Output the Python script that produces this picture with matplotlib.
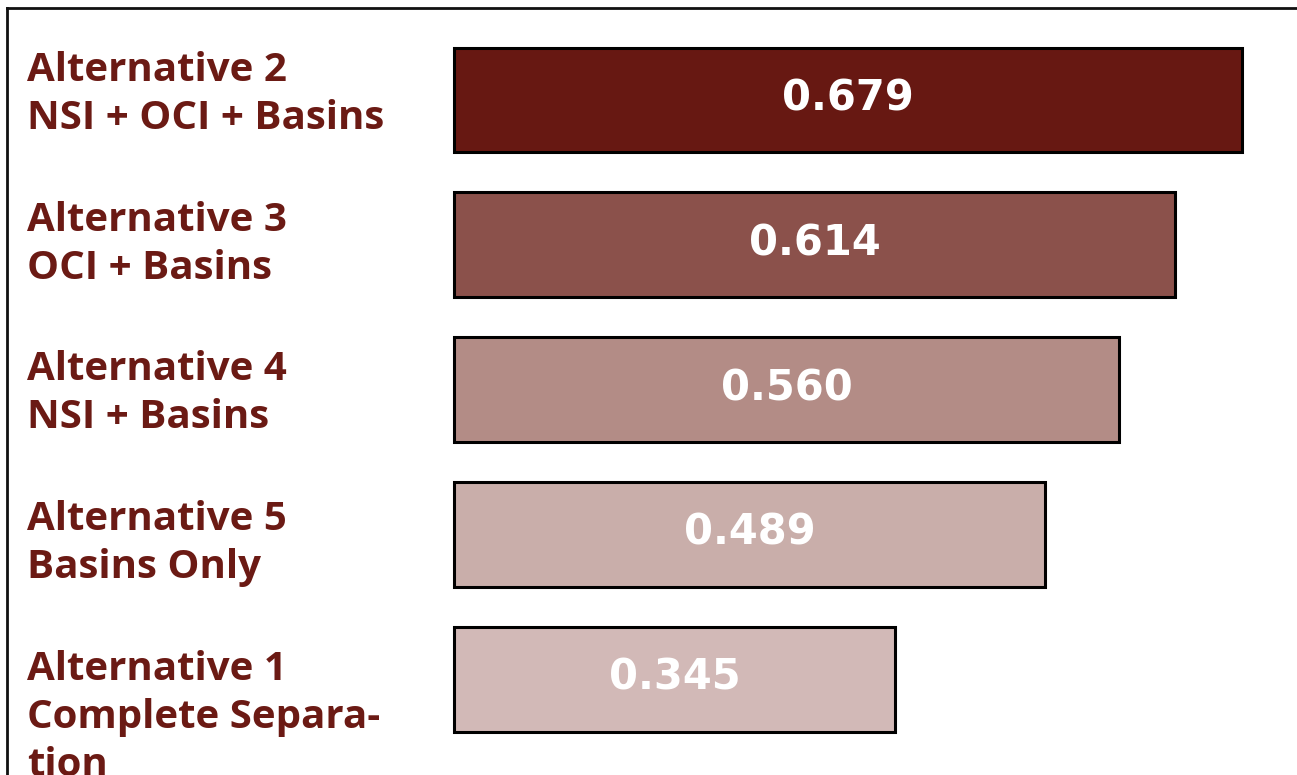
import matplotlib
matplotlib.use("Agg")
import matplotlib.pyplot as plt
from matplotlib.transforms import blended_transform_factory

# ---- data ----
labels = [
    "Alternative 2\nNSI + OCI + Basins",
    "Alternative 3\nOCI + Basins",
    "Alternative 4\nNSI + Basins",
    "Alternative 5\nBasins Only",
    "Alternative 1\nComplete Separa-\ntion",
]
values = [0.679, 0.614, 0.560, 0.489, 0.345]
value_text = ["0.679", "0.614", "0.560", "0.489", "0.345"]
colors = ["#671812", "#8B514B", "#B38C86", "#C9AEAA", "#D2B9B7"]

TEXT_COLOR = "#6B1A14"
BASE = -0.080          # visual baseline of the bars
LABEL_STRETCH = 1.035  # labels are spaced slightly wider than the bars

W, H = 1297, 775
fig = plt.figure(figsize=(W / 100, H / 100), dpi=100)
fig.patch.set_facecolor("white")

ax = fig.add_axes([7 / W, 0, 1 - 7 / W, 1 - 8 / H])
ypos = list(range(len(values)))
widths = [v - BASE for v in values]
ax.barh(ypos, widths, left=BASE, height=0.725, color=colors,
        edgecolor="black", linewidth=2.2)

ax.set_xlim(-0.5109, 0.7318)
ax.set_ylim(4.663, -0.6356)

for s in ["right", "bottom"]:
    ax.spines[s].set_visible(False)
for s in ["left", "top"]:
    ax.spines[s].set_linewidth(2.0)
    ax.spines[s].set_color("#111111")
ax.set_xticks([])
ax.set_yticks([])

trans = blended_transform_factory(ax.transAxes, ax.transData)
for y, lab in zip(ypos, labels):
    ax.text(20 / 1290, y * LABEL_STRETCH - 0.34, lab, transform=trans,
            ha="left", va="top", fontsize=29, fontweight="bold",
            color=TEXT_COLOR, family="Open Sans", linespacing=1.3)

for y, v, t in zip(ypos, values, value_text):
    ax.text((BASE + v) / 2, y - 0.01, t, ha="center", va="center",
            fontsize=30, fontweight="bold", color="white",
            family="DejaVu Sans")

fig.savefig("out.png", dpi=100)
